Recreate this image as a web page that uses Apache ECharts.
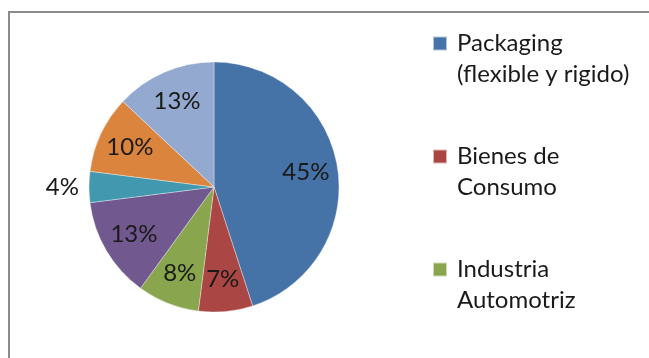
<!DOCTYPE html>
<html>
<head>
<meta charset="utf-8">
<script src="https://cdn.jsdelivr.net/npm/echarts@6/dist/echarts.min.js"></script>
<style>
  html, body { margin: 0; padding: 0; background: #fff; }
  #frame {
    position: absolute; left: 8px; top: 11px; width: 700px; height: 400px;
    border-left: 2px solid #8c8c8c; border-top: 2px solid #8c8c8c;
  }
  #chart { position: absolute; left: 0; top: 0; width: 649px; height: 358px; }
</style>
</head>
<body>
<div id="frame"></div>
<div id="chart"></div>
<script>
// Market share by sector (percent)
const categories = [
  'Packaging\n(flexible y rigido)',
  'Bienes de\nConsumo',
  'Industria\nAutomotriz',
  'Sector 4',
  'Sector 5',
  'Sector 6',
  'Sector 7'
];
const shares = [45, 7, 8, 13, 4, 10, 13];
const sliceColors = ['#4572A7', '#AA4643', '#89A54E', '#71588F', '#4198AF', '#DB843D', '#93A9CF'];
const legendNames = categories.slice(0, 3);

const FONT = 'Lato, "Open Sans", sans-serif';
const CENTER = [214, 187];
const R = 125;

const chart = echarts.init(document.getElementById('chart'), null, { renderer: 'canvas' });

chart.setOption({
  animation: false,
  backgroundColor: 'transparent',
  legend: {
    orient: 'vertical',
    left: 432,
    top: -3,
    padding: 0,
    itemWidth: 14,
    itemHeight: 14,
    itemGap: 20,
    icon: 'rect',
    selectedMode: false,
    data: legendNames,
    // leading blank line keeps the swatch level with the first text line
    formatter: name => '\n' + name,
    textStyle: {
      fontFamily: FONT,
      fontSize: 24,
      color: '#1a1a1a',
      lineHeight: 31,
      padding: [0, 0, 0, 5]
    }
  },
  series: [
    {
      // slices
      type: 'pie',
      center: CENTER,
      radius: R,
      startAngle: 90,
      clockwise: true,
      silent: true,
      label: { show: false },
      labelLine: { show: false },
      itemStyle: { borderColor: 'rgba(255,255,255,0.6)', borderWidth: 0.6 },
      data: categories.map((name, i) => ({
        name, value: shares[i], itemStyle: { color: sliceColors[i] }
      }))
    },
    {
      // percentage labels, placed on a ring so inside text sits near the rim
      type: 'pie',
      center: CENTER,
      radius: [55, R],
      startAngle: 90,
      clockwise: true,
      silent: true,
      avoidLabelOverlap: false,
      itemStyle: { color: 'rgba(0,0,0,0)' },
      label: {
        show: true,
        position: 'inside',
        fontFamily: FONT,
        fontSize: 24,
        color: '#1a1a1a',
        formatter: p => p.value + '%'
      },
      labelLine: { show: false, length: 5, length2: 0 },
      data: categories.map((name, i) => {
        const item = { name, value: shares[i] };
        if (shares[i] < 5) item.label = { position: 'outside' };
        return item;
      })
    }
  ]
});
</script>
</body>
</html>
